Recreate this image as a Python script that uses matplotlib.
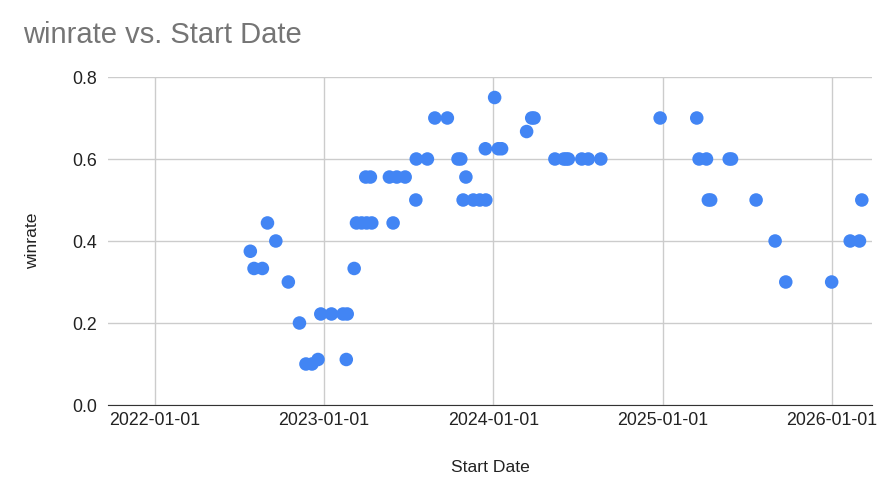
import numpy as np
import pandas as pd
import matplotlib
matplotlib.use("Agg")
import matplotlib.pyplot as plt
import matplotlib.dates as mdates

plt.rcParams["font.family"] = ["Liberation Sans", "DejaVu Sans"]

start_dates = [
    "2022-07-26", "2022-08-03", "2022-08-21", "2022-09-01", "2022-09-19", "2022-10-16",
    "2022-11-09", "2022-11-23", "2022-12-06", "2022-12-19", "2022-12-25",
    "2023-01-17", "2023-02-11", "2023-02-20", "2023-02-18", "2023-03-07",
    "2023-03-12", "2023-03-23", "2023-04-03", "2023-04-14",
    "2023-04-01", "2023-04-11", "2023-05-22", "2023-06-07", "2023-06-25",
    "2023-05-30", "2023-07-18", "2023-07-19", "2023-08-12", "2023-08-28", "2023-09-24",
    "2023-10-17", "2023-10-23", "2023-11-03", "2023-10-28", "2023-11-19", "2023-12-03",
    "2023-12-16", "2023-12-15", "2024-01-04", "2024-01-12", "2024-01-19",
    "2024-03-13", "2024-03-24", "2024-03-29",
    "2024-05-13", "2024-06-01", "2024-06-06", "2024-06-11", "2024-07-10", "2024-07-24", "2024-08-20",
    "2024-12-26", "2025-03-15", "2025-03-20", "2025-04-05", "2025-04-09", "2025-04-14",
    "2025-05-24", "2025-05-29", "2025-07-21", "2025-08-31", "2025-09-23",
    "2025-12-31", "2026-02-09", "2026-03-01", "2026-03-06",
]
winrate = [
    0.375, 0.333, 0.333, 0.444, 0.4, 0.3,
    0.2, 0.1, 0.1, 0.111, 0.222,
    0.222, 0.222, 0.222, 0.111, 0.333,
    0.444, 0.444, 0.444, 0.444,
    0.556, 0.556, 0.556, 0.556, 0.556,
    0.444, 0.5, 0.6, 0.6, 0.7, 0.7,
    0.6, 0.6, 0.556, 0.5, 0.5, 0.5,
    0.5, 0.625, 0.75, 0.625, 0.625,
    0.667, 0.7, 0.7,
    0.6, 0.6, 0.6, 0.6, 0.6, 0.6, 0.6,
    0.7, 0.7, 0.6, 0.6, 0.5, 0.5,
    0.6, 0.6, 0.5, 0.4, 0.3,
    0.3, 0.4, 0.4, 0.5,
]
year_ticks = ["2022-01-01", "2023-01-01", "2024-01-01", "2025-01-01", "2026-01-01"]

x = pd.to_datetime(start_dates)
ticks = pd.to_datetime(year_ticks)

fig = plt.figure(figsize=(8.94, 5.0), dpi=100)
ax = fig.add_axes([108 / 894, 1 - 405 / 500, (872 - 108) / 894, (405 - 77) / 500])

ax.scatter(x, winrate, s=95, color="#4285F4", edgecolors="none", zorder=3)

ax.set_xlim(pd.Timestamp("2021-09-22"), pd.Timestamp("2026-03-28"))
ax.set_ylim(0, 0.8)
ax.set_xticks(ticks)
ax.xaxis.set_major_formatter(mdates.DateFormatter("%Y-%m-%d"))
ax.set_yticks([0.0, 0.2, 0.4, 0.6, 0.8])
ax.set_yticklabels(["0.0", "0.2", "0.4", "0.6", "0.8"])

ax.grid(True, color="#cccccc", lw=1, zorder=0)
for s in ["top", "right", "left"]:
    ax.spines[s].set_visible(False)
ax.spines["bottom"].set_color("#333333")
ax.spines["bottom"].set_zorder(4)
ax.tick_params(length=0, labelsize=12.8, colors="#222222")
ax.tick_params(axis="x", pad=5)
ax.tick_params(axis="y", pad=8)

ax.set_xlabel("Start Date", fontsize=12.6, color="#222222")
ax.set_ylabel("winrate", fontsize=12.6, color="#222222")
ax.xaxis.label.set_va("center")
ax.yaxis.label.set_va("center")
ax.xaxis.set_label_coords(0.5, (405 - 468) / 328)
ax.yaxis.set_label_coords((33 - 108) / 764, 0.5)
fig.text(23 / 894, 1 - 35 / 500, "winrate vs. Start Date", fontsize=21, color="#757575", va="center", ha="left")

fig.savefig("out.png", dpi=100)
